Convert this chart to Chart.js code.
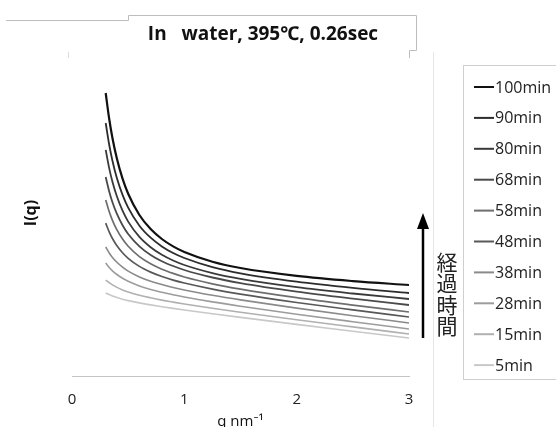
<!DOCTYPE html>
<html><head><meta charset="utf-8">
<script src="https://cdn.jsdelivr.net/npm/chart.js@4/dist/chart.umd.min.js"></script>
<style>html,body{margin:0;padding:0;background:#fff}</style>
</head><body>
<canvas id="c" width="556" height="427"></canvas>
<script>
// ---- data ----
const qValues = [0.3, 0.33, 0.36, 0.4, 0.45, 0.5, 0.6, 0.7, 0.8, 0.9, 1.0, 1.25, 1.5, 2.0, 2.5, 3.0];
const seriesLabels = ['100min','90min','80min','68min','58min','48min','38min','28min','15min','5min'];
const I_100 = [283, 258, 238, 217.2, 197.3, 182.2, 161, 146.9, 137, 129.6, 124, 114.3, 108, 100.1, 94.9, 91];
const I_90  = [253, 232, 215.3, 197.7, 181.1, 168.3, 150.3, 138.3, 129.6, 123, 118, 108.9, 102.7, 94.3, 88.1, 83];
const I_80  = [226.1, 208.4, 194.3, 179.5, 165.3, 154.4, 139.1, 128.8, 121.2, 115.5, 111, 102.9, 97.1, 88.8, 82.5, 77];
const I_68  = [199, 185.1, 173.8, 162.1, 150.8, 142, 129.7, 121.1, 114.8, 110, 106, 98.5, 92.9, 84.4, 77.4, 71];
const I_58  = [176, 164.7, 155.7, 146.1, 136.9, 129.7, 119.4, 112.2, 106.8, 102.6, 99, 92.2, 86.9, 78.3, 70.9, 64];
const I_48  = [152.9, 144.4, 137.5, 130.3, 123.3, 117.7, 109.6, 103.9, 99.5, 95.9, 93, 86.9, 81.9, 73.5, 66.1, 59];
const I_38  = [129, 123.3, 118.6, 113.7, 108.8, 104.9, 99.1, 94.8, 91.4, 88.5, 86, 80.7, 76.1, 67.9, 60.3, 53];
const I_28  = [113, 108.8, 105.2, 101.5, 97.7, 94.7, 90.1, 86.5, 83.7, 81.2, 79, 74.1, 69.8, 61.8, 54.3, 47];
const I_15  = [96, 93.3, 91.1, 88.6, 86.1, 84.1, 80.8, 78.2, 75.9, 73.9, 72, 67.7, 63.8, 56.3, 49.1, 42];
const I_5   = [83, 81.4, 80, 78.5, 76.8, 75.4, 73.1, 71.1, 69.3, 67.6, 66, 62.2, 58.6, 51.6, 44.8, 38];
const seriesValues = [I_100, I_90, I_80, I_68, I_58, I_48, I_38, I_28, I_15, I_5];
const xTicks = [0, 1, 2, 3];
const titleText = 'In   water, 395\u2103, 0.26sec';
const xTitle = 'q nm\u207B\u00B9';
const yTitle = 'I(q)';
const arrowLabel = '経過時間';

// ---- styles ----
const lineColors = ['#111111','#2c2c2c','#3a3a3a','#4a4a4a','#6e6e6e','#585858','#8a8a8a','#9c9c9c','#b0b0b0','#c8c8c8'];
const lineWidths = [2.2, 1.8, 1.8, 1.8, 1.7, 1.7, 1.6, 1.6, 1.6, 1.6];
const latin = '"Open Sans", "Noto Sans", sans-serif';

const datasets = seriesLabels.map((lab, i) => ({
  label: lab,
  data: qValues.map((q, j) => ({x: q, y: seriesValues[i][j]})),
  borderColor: lineColors[i],
  backgroundColor: lineColors[i],
  borderWidth: lineWidths[i],
  pointRadius: 0,
  cubicInterpolationMode: 'monotone',
  fill: false
}));

const decor = {
  id: 'decor',
  afterDraw(chart) {
    const ctx = chart.ctx;
    ctx.save();
    // outer frame / title box
    ctx.strokeStyle = '#bdbdbd';
    ctx.lineWidth = 1;
    ctx.beginPath();
    ctx.moveTo(6, 20.5); ctx.lineTo(128.5, 20.5); ctx.lineTo(128.5, 15.5);
    ctx.lineTo(416.5, 15.5); ctx.lineTo(416.5, 50.5); ctx.lineTo(409.5, 50.5); ctx.lineTo(409.5, 58);
    ctx.stroke();
    ctx.strokeStyle = '#dcdcdc';
    ctx.beginPath(); ctx.moveTo(68.5, 52); ctx.lineTo(68.5, 58); ctx.stroke();
    // faint separator line
    ctx.strokeStyle = '#e6e6e6';
    ctx.beginPath(); ctx.moveTo(433.5, 52); ctx.lineTo(433.5, 427); ctx.stroke();
    // title
    ctx.fillStyle = '#111';
    ctx.font = 'bold 19px ' + latin;
    ctx.textAlign = 'center';
    ctx.textBaseline = 'middle';
    ctx.fillText(titleText, 263, 35);
    // arrow
    ctx.strokeStyle = '#000';
    ctx.lineWidth = 2.5;
    ctx.beginPath(); ctx.moveTo(423, 338); ctx.lineTo(423, 226); ctx.stroke();
    ctx.fillStyle = '#000';
    ctx.beginPath(); ctx.moveTo(423, 213); ctx.lineTo(417, 229); ctx.lineTo(429, 229); ctx.closePath(); ctx.fill();
    // vertical japanese label
    ctx.fillStyle = '#222';
    ctx.font = '21px "Noto Sans CJK JP", sans-serif';
    ctx.textAlign = 'center';
    ctx.textBaseline = 'middle';
    Array.from(arrowLabel).forEach((ch, i) => ctx.fillText(ch, 447, 262 + i * 21.5));
    // legend
    ctx.fillStyle = '#fff';
    ctx.strokeStyle = '#cfcfcf';
    ctx.lineWidth = 1;
    ctx.fillRect(463.5, 65.5, 100, 314);
    ctx.strokeRect(463.5, 65.5, 100, 314);
    chart.data.datasets.forEach((ds, i) => {
      const y = 87 + i * 30.9;
      ctx.strokeStyle = ds.borderColor;
      ctx.lineWidth = 2;
      ctx.beginPath(); ctx.moveTo(474, y); ctx.lineTo(494, y); ctx.stroke();
      ctx.fillStyle = '#222';
      ctx.font = '16px ' + latin;
      ctx.textAlign = 'left';
      ctx.textBaseline = 'middle';
      ctx.fillText(ds.label, 495, y + 1);
    });
    ctx.restore();
  }
};

new Chart(document.getElementById('c'), {
  type: 'line',
  data: { datasets },
  options: {
    responsive: false,
    animation: false,
    devicePixelRatio: 1,
    layout: { padding: { left: 0, top: 50, right: 147, bottom: 0 } },
    plugins: { legend: { display: false }, tooltip: { enabled: false }, title: { display: false } },
    scales: {
      x: {
        type: 'linear', min: 0, max: 3,
        afterBuildTicks: s => { s.ticks = xTicks.map(v => ({ value: v })); },
        ticks: { color: '#222', font: { size: 15, family: latin }, padding: 7, maxRotation: 0 },
        grid: { display: false },
        border: { display: true, color: '#c4c4c4', width: 1 },
        title: { display: true, text: xTitle, color: '#111', font: { size: 15, family: latin }, padding: { top: 0, bottom: -4 } },
        afterFit: s => { s.height = 51; }
      },
      y: {
        min: 0, max: 326,
        ticks: { display: false },
        grid: { display: false },
        border: { display: false },
        title: { display: true, text: yTitle, color: '#111', font: { size: 16, weight: 'bold', family: latin }, padding: { top: 22, bottom: 0 } },
        afterFit: s => { s.width = 72; }
      }
    }
  },
  plugins: [decor]
});
</script>
</body></html>
